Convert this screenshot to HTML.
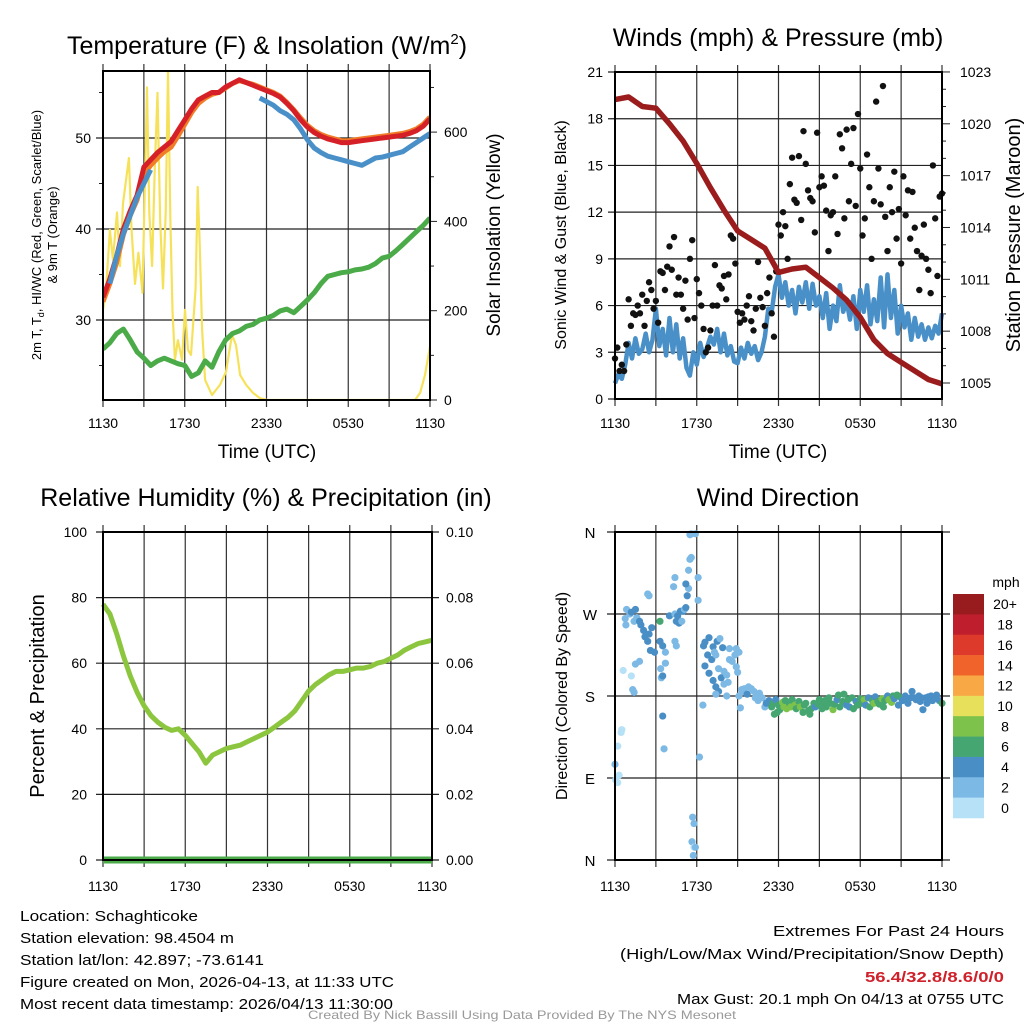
<!DOCTYPE html>
<html><head><meta charset="utf-8"><style>
html,body{margin:0;padding:0;background:#fff;}
svg{display:block;font-family:"Liberation Sans",sans-serif;}
</style></head><body>
<svg id="chart" width="1024" height="1024" viewBox="0 0 1024 1024" xmlns="http://www.w3.org/2000/svg"></svg>
<script>
// ---------- DATA ----------
const halfHours = []; for (let i = 0; i <= 48; i++) halfHours.push(i * 0.5);
const tempRed = [32.5,34.5,37,40,42,43.7,46.8,47.6,48.4,49,49.6,50.8,52,53.2,54.2,54.6,55,55,55.6,56,56.4,56.1,55.8,55.5,55.2,54.9,54.5,53.8,53,52,51.2,50.6,50.2,49.9,49.7,49.5,49.5,49.6,49.7,49.8,49.9,50,50.1,50.2,50.3,50.5,50.8,51.3,52.1];
const tempOrange = [32,34,36.3,39.4,41.5,43.2,46,47,47.8,48.5,49,50.2,51.5,52.8,53.8,54.4,54.8,55,55.5,56,56.3,56.1,55.9,55.6,55.3,55,54.6,53.9,53.1,52.2,51.4,50.8,50.4,50.1,49.9,49.7,49.7,49.8,49.9,50,50.1,50.2,50.3,50.4,50.5,50.7,51,51.5,52.3];
const tempBlue = [null,34,37,39.5,41.5,43.5,45,46.5,null,null,null,null,null,null,null,null,null,null,null,null,null,null,null,54.4,54,53.6,53,52.6,52,51,49.8,48.9,48.4,48,47.8,47.6,47.4,47.2,47,47.4,47.8,47.9,48.1,48.3,48.5,49,49.5,50,50.5];
const dewGreen = [26.8,27.5,28.5,29,27.8,26.5,25.8,25,25.5,25.8,25.5,25.2,25,23.8,24.2,25.5,24.8,26.5,27.8,28.5,28.8,29.3,29.5,30,30.2,30.5,31,31.2,30.8,31.5,32.2,33,34,34.8,35,35.2,35.3,35.5,35.6,35.8,36.2,36.8,37,37.6,38.3,39,39.7,40.4,41.2];
const solarHours = [0,0.22,0.51,0.73,1.03,1.25,1.47,1.9,2.1,2.35,2.6,2.9,3.23,3.4,3.6,3.8,4.0,4.2,4.4,4.6,4.77,4.95,5.1,5.28,5.5,5.8,6.02,6.24,6.46,6.8,6.95,7.1,7.27,7.49,8,8.59,9.03,9.47,9.76,10.06,10.5,11.01,11.52,12.04,22.9,23.27,23.63,24];
const solarVals = [202,246,381,314,420,300,440,542,380,260,330,240,700,420,300,520,688,400,250,420,735,400,200,90,134,90,202,112,101,250,477,350,157,45,11,34,63,146,123,56,34,16,4,0,0,16,56,120];
const pressHours = []; for (let i = 0; i <= 24; i++) pressHours.push(i);
const pressVals = [1021.4,1021.55,1021,1020.9,1020,1019,1017.7,1016.3,1015,1013.8,1013.3,1012.8,1011.4,1011.6,1011.7,1011.1,1010.5,1009.8,1008.8,1007.5,1006.7,1006.2,1005.7,1005.2,1004.95];
const windHours = []; for (let i = 0; i <= 96; i++) windHours.push(i * 0.25);
const windVals = [1.0,1.6,1.3,2.2,3.6, 2.6,3.9,2.9,3.2, 4.2,3.0,3.8,5.8, 3.4,4.5,2.8,5.2, 3.0,4.8,2.6,3.9, 2.0,1.5,3.0,2.2, 3.6,2.7,3.3,4.0, 3.5,4.5,3.0,4.2, 2.8,3.4,2.4,2.3, 3.3,2.6,3.6,2.9, 3.4,2.5,3.0,4.0, 5.8,5.6,7.2,8.0, 6.5,7.5,6.0,7.0, 5.5,7.2,6.2,7.5, 5.8,7.4,6.0,6.6, 5.2,6.8,4.5,6.0, 5.0,7.3,5.6,6.3, 5.1,6.6,4.5,7.0, 5.6,7.3,4.8,6.4, 5.0,7.8,4.6,8.0, 5.2,7.0,4.2,6.0, 4.6,5.5,3.8,5.2, 4.0,4.8,3.8,4.6, 3.9,4.7,4.2,5.5];
const gustHours = []; for (let i = 0; i <= 144; i++) gustHours.push(i / 6);
const gustVals = [2.6,3.3,1.8,2.2,1.8,3.5, 6.4,4.7,5.5,5.4,6.0,5.5, 6.7,4.7,6.3,7.5,7.0,5.8, 6.3,4.9,8.2,8.1,7.0,8.5, 9.8,8.3,10.4,6.7,7.8,6.7, 5.8,7.6,5.1,9.0,10.2,5.2, 7.7,6.8,6.0,4.5,3.0,3.3, 4.4,6.0,8.6,6.0,7.3,7.1, 7.9,6.4,8.0,10.5,10.3,8.7, 5.6,4.9,5.5,5.1,6.0,6.6, 5.0,4.4,5.8,8.8,6.5,5.9, 4.7,6.8,7.8,5.5,4.0,8.2, 11.2,10.5,12.0,11.1,9.0,13.8, 15.5,12.8,12.6,15.6,11.5,17.2, 15.1,13.4,12.9,12.7,10.7,17.1, 13.6,14.3,13.7,12.1,9.5,11.8, 12.0,14.3,10.6,17.0,16.1,11.6, 17.3,12.7,15.1,17.4,12.4,18.3, 14.8,10.5,11.6,15.7,13.6,9.0, 12.7,19.1,14.8,12.5,20.1,11.7, 9.5,13.6,12.0,14.6,10.3,12.2, 8.7,14.3,11.8,13.4,10.3,13.3, 11.0,9.5,7.0,9.2,11.2,9.0, 8.3,6.8,15.0,11.6,7.9,13.0, 13.2];
const rhVals = [78,75,69,62,56,51,47,44,42,40.5,39.5,40,38,35.5,33,29.5,32,33,34,34.5,35,36,37,38,39,40.5,42,43.5,45.5,48.5,51.5,53.5,55,56.5,57.5,57.5,58,58.5,58.5,59,60,60.5,61.5,62.5,64,65,66,66.5,67];
const precipVals = [0,0,0,0,0,0,0,0,0,0,0,0,0,0,0,0,0,0,0,0,0,0,0,0,0,0,0,0,0,0,0,0,0,0,0,0,0,0,0,0,0,0,0,0,0,0,0,0,0];
const dirHours = [0,0.05,0.2,0.3,0.2,0.45,0.5,0.6,1.2,0.8,0.75,0.85,1.1,1.2,1.4,1.5,1.6,1.8,1.9,2.1,2.2,2.4,2.6,2.9,2.5,2.7,3.3,2.4,2.5,1.8,1.5,1.3,1.4,3.5,3.6,3.4,3.35,3.5,3.7,3.5,3.3,3.7,4.0,4.4,4.5,4.6,4.7,4.8,4.9,5.0,5.1,5.2,5.3,5.4,5.2,4.3,4.4,4.4,4.5,5.4,5.5,5.6,5.5,5.6,5.9,6.1,6.1,5.7,5.8,5.65,5.8,5.9,5.75,6.2,6.45,
6.5,6.6,6.9,6.8,6.6,6.9,7.1,7.2,7.3,7.4,7.5,7.7,7.9,7.6,7.8,8.0,8.2,8.3,7.4,7.6,7.2,7.4,8.2,8.0,8.4,8.6,8.8,8.4,8.9,9.1,8.9,9.0,9.2,9.1,9.3,
9.4,9.5,9.7,9.8,10.0,10.2,10.3,10.5,10.6,10.8,11.0,11.1,11.3,
11.5,11.6,11.7,11.8,11.9,12.0,12.1, 12.3,12.4,12.5,12.6,12.8,12.9,13.0, 13.2,13.3,13.5,13.6,13.8,13.9,14.0, 14.2,14.3,14.4,14.6,14.7,14.9,15.0, 15.1,15.2,15.4,15.5,15.7,15.8,16.0, 16.1,16.3,16.4,16.5,16.7,16.8,17.0, 17.1,17.2,17.4,17.5,17.7,17.8,18.0, 18.1,18.3,18.4,18.6,18.7,18.9,19.0, 19.1,19.3,19.4,19.6,19.7,19.8,20.0, 20.1,20.3,20.4,20.5,20.7,20.8,21.0, 21.1,21.3,21.4,21.5,21.7,21.8,22.0, 22.1,22.3,22.4,22.5,22.6,22.8,22.9, 23.0,23.2,23.3,23.5,23.6,23.8,24.0];
const dirDeg = [105,88,85,93,125,140,143,208,202,258,265,275,270,272,262,275,266,262,258,252,245,240,230,228,248,255,262,292,290,218,215,187,184,158,122,200,210,202,228,235,240,216,268,270,262,268,260,273,262,273,275,277,290,298,303,300,310,240,235,318,330,332,357,358,358,310,285,47,40,20,14,14,5,113,170,
235,239,244,225,213,205,220,234,228,225,240,243,233,210,200,207,203,195,190,185,197,182,180,193,220,218,225,232,232,228,212,206,167,180,187,
185,188,182,190,188,185,178,175,183,178,168,172,175,
168,172,160,176,162,170,165, 173,168,175,166,172,168,176, 170,166,174,168,162,170,172, 164,160,166,172,168,171,176, 170,166,175,168,178,172,165, 171,176,181,168,174,182,170, 176,168,178,166,174,170,177, 172,176,170,178,168,175,172, 179,174,171,177,168,175,180, 176,173,180,177,181,170,178, 175,180,177,172,178,185,178, 176,180,174,178,165,178,172, 179,180,175,178,181,175,172];
const dirSpeed = [3,1,1,1,1,0,1,0,0,2,2,2,3,4,3,4,3,4,4,4,4,4,4,4,4,4,6,2,2,2,2,2,2,4,2,2,2,4,2,4,4,2,4,2,4,4,4,4,2,4,2,4,4,2,4,2,2,2,2,2,2,2,2,2,2,2,2,2,2,2,1,2,2,2,2,
4,4,4,4,4,4,4,4,2,2,4,2,4,2,4,2,2,2,4,4,4,2,2,2,2,2,2,2,2,2,2,2,2,2,2,
2,2,4,2,2,2,2,2,2,2,2,4,4,
6,6,6,4,6,6,6, 8,8,6,8,6,8,6, 8,6,6,8,6,6,6, 6,6,6,6,4,6,6, 6,6,6,6,6,6,8, 6,4,6,6,6,6,4, 6,4,6,6,4,6,6, 6,8,4,4,6,6,8, 4,6,6,8,6,6,4, 8,8,6,4,6,4,6, 4,4,4,4,4,4,4, 4,4,4,4,4,4,4, 4,4,4,4,4,4,6];
const legendLabels = ['20+','18','16','14','12','10','8','6','4','2','0'];
const legendColors = ['#981b1e','#bf1e2d','#de3a2b','#f0632a','#f8a845','#e6e05a','#7dc24b','#45a672','#4a8ec6','#7db9e5','#b6e1f6'];

// ---------- HELPERS ----------
const NS = 'http://www.w3.org/2000/svg';
const svg = document.getElementById('chart');
function mk(tag, attrs, parent) {
  const e = document.createElementNS(NS, tag);
  for (const k in attrs) e.setAttribute(k, attrs[k]);
  (parent || svg).appendChild(e);
  return e;
}
function txt(x, y, s, size, anchor, parent, extra) {
  const t = mk('text', Object.assign({x: x, y: y, 'font-size': size, 'text-anchor': anchor || 'middle', fill: '#000'}, extra || {}), parent);
  t.textContent = s;
  return t;
}
function pathFrom(xs, ys, fx, fy) {
  let d = '', pen = false;
  for (let i = 0; i < xs.length; i++) {
    if (ys[i] === null) { pen = false; continue; }
    d += (pen ? 'L' : 'M') + fx(xs[i]).toFixed(1) + ' ' + fy(ys[i]).toFixed(1);
    pen = true;
  }
  return d;
}
const timeLabels = ['1130','1730','2330','0530','1130'];

function timeAxis(g, X0, X1, Y0, Y1, labelY) {
  const fx = h => X0 + h * (X1 - X0) / 24;
  for (let h = 0; h <= 24; h += 3) {
    const l = mk('line', {x1: fx(h), x2: fx(h), y1: Y0 - 7, y2: Y1 + 7, stroke: '#333', 'stroke-width': 1.2}, g);
    
    
  }
  timeLabels.forEach((s, i) => {
    const t = txt(fx(i * 6), labelY, s, 14, 'middle', g);
    
    
  });
}
function frame(g, X0, X1, Y0, Y1) {
  const r = mk('rect', {x: X0, y: Y0, width: X1 - X0, height: Y1 - Y0, fill: 'none', stroke: '#000', 'stroke-width': 2}, g);
  
  
}

// ================= PANEL 1: Temperature =================
(function () {
  const g = mk('g', {});
  
  
  const X0 = 103, X1 = 430, Y0 = 71, Y1 = 400;
  const fx = h => X0 + h * (X1 - X0) / 24;
  const fy = t => 138 - (t - 50) * 9.1;
  const fs = w => 400 - w * 0.4465;
  timeAxis(g, X0, X1, Y0, Y1, 428);
  [30, 40, 50].forEach(v => {
    const l = mk('line', {x1: X0 - 7, x2: X1, y1: fy(v), y2: fy(v), stroke: '#222', 'stroke-width': 1.2}, g);
    
    
    const t = txt(X0 - 12, fy(v) + 5, String(v), 14, 'end', g);
    
    
  });
  [25, 35, 45, 55].forEach(v => {
    const l = mk('line', {x1: X0 - 4, x2: X0, y1: fy(v), y2: fy(v), stroke: '#222', 'stroke-width': 1}, g);
    
    
  });
  for (let w = 0; w <= 700; w += 100) {
    const major = w % 200 === 0;
    const l = mk('line', {x1: X1, x2: X1 + (major ? 7 : 4), y1: fs(w), y2: fs(w), stroke: '#222', 'stroke-width': 1}, g);
    
    
    if (major) {
      const t = txt(X1 + 14, fs(w) + 5, String(w), 14, 'start', g);
      
      
    }
  }
  const clip = mk('clipPath', {id: 'c1'}, g);
  mk('rect', {x: X0, y: Y0, width: X1 - X0, height: Y1 - Y0}, clip);
  const pg = mk('g', {'clip-path': 'url(#c1)'}, g);
  const sy = mk('path', {d: pathFrom(solarHours, solarVals, fx, fs), fill: 'none', stroke: '#f6e25a', 'stroke-width': 2.2, 'stroke-linejoin': 'round'}, pg);
  
  
  const gr = mk('path', {d: pathFrom(halfHours, dewGreen, fx, fy), fill: 'none', stroke: '#4aab48', 'stroke-width': 5, 'stroke-linejoin': 'round'}, pg);
  
  
  const or = mk('path', {d: pathFrom(halfHours, tempOrange, fx, fy), fill: 'none', stroke: '#f07c28', 'stroke-width': 5, 'stroke-linejoin': 'round'}, pg);
  
  
  const rd = mk('path', {d: pathFrom(halfHours, tempRed, fx, fy), fill: 'none', stroke: '#d62027', 'stroke-width': 5, 'stroke-linejoin': 'round'}, pg);
  
  
  const bl = mk('path', {d: pathFrom(halfHours, tempBlue, fx, fy), fill: 'none', stroke: '#4a90c8', 'stroke-width': 5, 'stroke-linejoin': 'round'}, pg);
  
  
  frame(g, X0, X1, Y0, Y1);
  const ti = mk('text', {x: 267, y: 54, 'font-size': 25, 'text-anchor': 'middle'}, g);
  
  
  ti.innerHTML = 'Temperature (F) &amp; Insolation (W/m<tspan dy="-10" font-size="15">2</tspan><tspan dy="10">)</tspan>';
  const xt = txt(267, 458, 'Time (UTC)', 19, 'middle', g);
  
  
  const yl = mk('text', {x: 0, y: 0, 'font-size': 13, 'text-anchor': 'middle', transform: 'translate(41,235) rotate(-90)'}, g);
  
  
  yl.innerHTML = '2m T, T<tspan dy="3" font-size="9">d</tspan><tspan dy="-3">, HI/WC (Red, Green, Scarlet/Blue)</tspan>';
  const yl2 = txt(0, 0, '& 9m T (Orange)', 13, 'middle', g, {transform: 'translate(57,235) rotate(-90)'});
  
  
  const yr = txt(0, 0, 'Solar Insolation (Yellow)', 19, 'middle', g, {transform: 'translate(500,235) rotate(-90)'});
  
  
})();

// ================= PANEL 2: Winds & Pressure =================
(function () {
  const g = mk('g', {});
  
  
  const X0 = 615, X1 = 942, Y0 = 72, Y1 = 399;
  const fx = h => X0 + h * (X1 - X0) / 24;
  const fw = v => Y1 - v * (Y1 - Y0) / 21;
  const fp = p => 383 - (p - 1005) * 17.28;
  timeAxis(g, X0, X1, Y0, Y1, 428);
  for (let v = 0; v <= 21; v += 3) {
    const l = mk('line', {x1: X0 - 7, x2: X1, y1: fw(v), y2: fw(v), stroke: '#222', 'stroke-width': 1.2}, g);
    
    
    const t = txt(X0 - 12, fw(v) + 5, String(v), 14, 'end', g);
    
    
  }
  for (let p = 1005; p <= 1023; p++) {
    const major = (p - 1005) % 3 === 0;
    const l = mk('line', {x1: X1, x2: X1 + (major ? 8 : 4), y1: fp(p), y2: fp(p), stroke: '#222', 'stroke-width': 1}, g);
    
    
    if (major) {
      const t = txt(X1 + 18, fp(p) + 5, String(p), 14, 'start', g);
      
      
    }
  }
  const wl = mk('path', {d: pathFrom(windHours, windVals, fx, fw), fill: 'none', stroke: '#4a90c8', 'stroke-width': 4.5, 'stroke-linejoin': 'round'}, g);
  
  
  gustHours.forEach((h, i) => {
    const c = mk('circle', {cx: fx(h), cy: fw(gustVals[i]), r: 3.2, fill: '#111'}, g);
    
    
  });
  const pl = mk('path', {d: pathFrom(pressHours, pressVals, fx, fp), fill: 'none', stroke: '#9b1c1c', 'stroke-width': 5.5, 'stroke-linejoin': 'round'}, g);
  
  
  frame(g, X0, X1, Y0, Y1);
  const ti = txt(778, 46, 'Winds (mph) & Pressure (mb)', 25, 'middle', g);
  
  
  const xt = txt(778, 458, 'Time (UTC)', 19, 'middle', g);
  
  
  const yl = txt(0, 0, 'Sonic Wind & Gust (Blue, Black)', 16, 'middle', g, {transform: 'translate(566,235) rotate(-90)'});
  
  
  const yr = txt(0, 0, 'Station Pressure (Maroon)', 20, 'middle', g, {transform: 'translate(1020,235) rotate(-90)'});
  
  
})();

// ================= PANEL 3: RH & Precip =================
(function () {
  const g = mk('g', {});
  
  
  const X0 = 103, X1 = 432, Y0 = 532, Y1 = 860;
  const fx = h => X0 + h * (X1 - X0) / 24;
  const fr = v => Y1 - v * (Y1 - Y0) / 100;
  const fq = v => Y1 - v * (Y1 - Y0) / 0.1;
  timeAxis(g, X0, X1, Y0, Y1, 891);
  for (let v = 0; v <= 100; v += 20) {
    const l = mk('line', {x1: X0 - 7, x2: X1 + 7, y1: fr(v), y2: fr(v), stroke: '#222', 'stroke-width': 1.2}, g);
    
    
    const t = txt(X0 - 16, fr(v) + 5, String(v), 14, 'end', g);
    
    
    const t2 = txt(X1 + 14, fr(v) + 5, (v / 1000).toFixed(2), 14, 'start', g);
    
    
  }
  const rl = mk('path', {d: pathFrom(halfHours, rhVals, fx, fr), fill: 'none', stroke: '#8cc63f', 'stroke-width': 5, 'stroke-linejoin': 'round'}, g);
  
  
  const ql = mk('path', {d: pathFrom(halfHours, precipVals, fx, fq), fill: 'none', stroke: '#4aab48', 'stroke-width': 7}, g);
  
  
  frame(g, X0, X1, Y0, Y1);
  const ti = txt(266, 506, 'Relative Humidity (%) & Precipitation (in)', 25, 'middle', g);
  
  
  const yl = txt(0, 0, 'Percent & Precipitation', 20, 'middle', g, {transform: 'translate(44,696) rotate(-90)'});
  
  
})();

// ================= PANEL 4: Wind Direction =================
(function () {
  const g = mk('g', {});
  
  
  const X0 = 615, X1 = 942, Y0 = 532, Y1 = 860;
  const fx = h => X0 + h * (X1 - X0) / 24;
  const fd = d => Y1 - d / 360 * (Y1 - Y0);
  timeAxis(g, X0, X1, Y0, Y1, 891);
  const dirLabels = ['N', 'E', 'S', 'W', 'N'];
  dirLabels.forEach((s, i) => {
    const l = mk('line', {x1: X0 - 8, x2: X1 + 8, y1: fd(i * 90), y2: fd(i * 90), stroke: '#222', 'stroke-width': 1.2}, g);
    
    
    const t = txt(590, fd(i * 90) + 6, s, 15, 'middle', g);
    
    
  });
  function colorFor(s) {
    const idx = Math.min(10, Math.floor(s / 2));
    return legendColors[10 - idx];
  }
  dirHours.forEach((h, i) => {
    const c = mk('circle', {cx: fx(h), cy: fd(dirDeg[i]), r: 3.6, fill: colorFor(dirSpeed[i])}, g);
    
    
  });
  frame(g, X0, X1, Y0, Y1);
  const ti = txt(778, 506, 'Wind Direction', 25, 'middle', g);
  
  
  const yl = txt(0, 0, 'Direction (Colored By Speed)', 16, 'middle', g, {transform: 'translate(567,696) rotate(-90)'});
  
  
  const lg = mk('g', {}, g);
  
  
  const lt = txt(1006, 587, 'mph', 14, 'middle', lg);
  
  
  const bh = (818 - 594) / legendLabels.length;
  legendLabels.forEach((s, i) => {
    const r = mk('rect', {x: 953, y: 594 + i * bh, width: 31, height: bh + 0.3, fill: legendColors[i]}, lg);
    
    
    const t = txt(1005, 594 + i * bh + bh / 2 + 5, s, 14, 'middle', lg);
    
    
  });
})();

// ================= FOOTER =================
(function () {
  const g = mk('g', {});
  
  
  const left = ['Location: Schaghticoke', 'Station elevation: 98.4504 m', 'Station lat/lon: 42.897; -73.6141', 'Figure created on Mon, 2026-04-13, at 11:33 UTC', 'Most recent data timestamp: 2026/04/13 11:30:00'];
  const lw = [178, 214, 244, 374, 373];
  left.forEach((s, i) => {
    const t = txt(20, 921 + i * 22, s, 15, 'start', g, {textLength: lw[i], lengthAdjust: 'spacingAndGlyphs'});
    
    
  });
  const r1 = txt(1004, 936, 'Extremes For Past 24 Hours', 15, 'end', g, {textLength: 231, lengthAdjust: 'spacingAndGlyphs'});
  
  
  const r2 = txt(1004, 959, '(High/Low/Max Wind/Precipitation/Snow Depth)', 15, 'end', g, {textLength: 384, lengthAdjust: 'spacingAndGlyphs'});
  
  
  const r3 = txt(1004, 982, '56.4/32.8/8.6/0/0', 15, 'end', g, {fill: '#d0202a', 'font-weight': 'bold', textLength: 139, lengthAdjust: 'spacingAndGlyphs'});
  
  
  const r4 = txt(1004, 1004, 'Max Gust: 20.1 mph On 04/13 at 0755 UTC', 15, 'end', g, {textLength: 327, lengthAdjust: 'spacingAndGlyphs'});
  
  
  const c = txt(522, 1019, 'Created By Nick Bassill Using Data Provided By The NYS Mesonet', 12, 'middle', g, {fill: '#999', textLength: 428, lengthAdjust: 'spacingAndGlyphs'});
  
  
})();
</script>
</body></html>
